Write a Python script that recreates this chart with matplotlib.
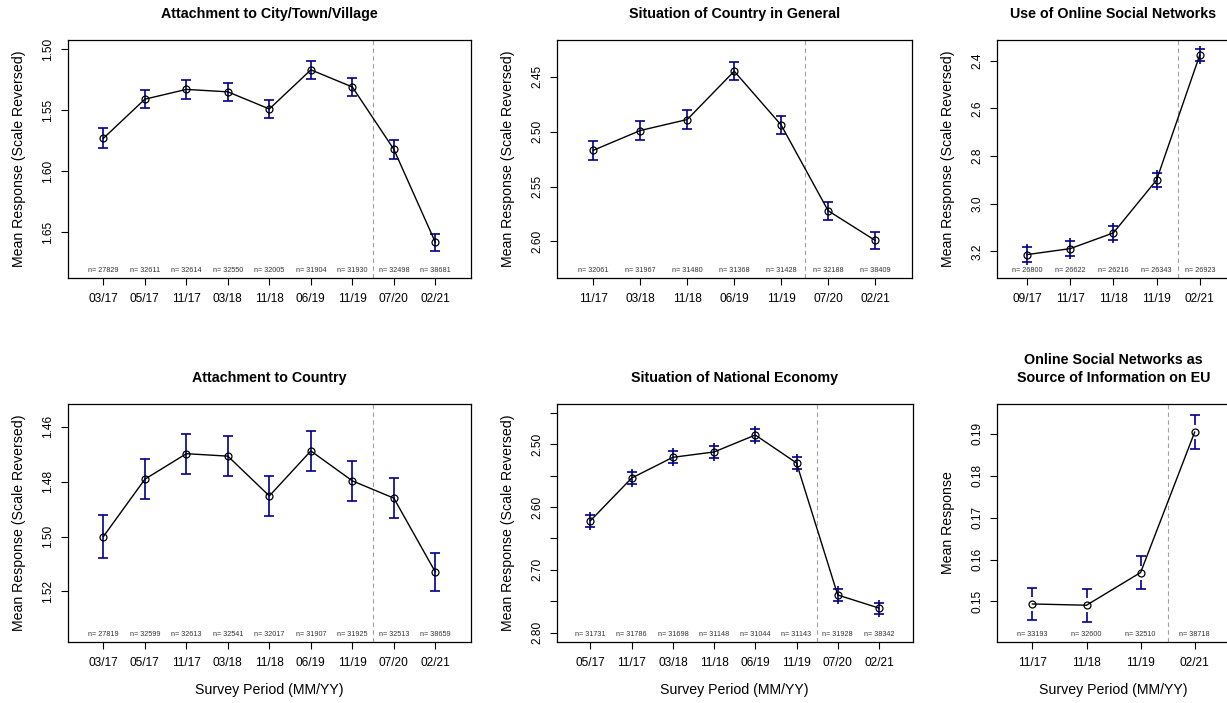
import numpy as np
import matplotlib
matplotlib.use("Agg")
import matplotlib.pyplot as plt
import matplotlib.transforms as mtransforms

plt.rcParams['font.family'] = ['Liberation Sans', 'DejaVu Sans']

# --- data ---
city_labels = ['03/17', '05/17', '11/17', '03/18', '11/18', '06/19', '11/19', '07/20', '02/21']
city_means = [1.573, 1.541, 1.533, 1.535, 1.549, 1.517, 1.531, 1.582, 1.658]
city_errs = [0.0082, 0.0076, 0.0075, 0.0075, 0.0076, 0.0076, 0.0076, 0.0076, 0.0068]
city_n = [27829, 32611, 32614, 32550, 32005, 31904, 31930, 32498, 38681]

general_labels = ['11/17', '03/18', '11/18', '06/19', '11/19', '07/20', '02/21']
general_means = [2.517, 2.499, 2.489, 2.445, 2.494, 2.572, 2.599]
general_errs = [0.0085, 0.0085, 0.0086, 0.0084, 0.0086, 0.0082, 0.0076]
general_n = [32061, 31967, 31480, 31368, 31428, 32188, 38409]

online_labels = ['09/17', '11/17', '11/18', '11/19', '02/21']
online_means = [3.214, 3.189, 3.123, 2.901, 2.376]
online_errs = [0.031, 0.030, 0.028, 0.028, 0.027]
online_n = [26800, 26622, 26216, 26343, 26923]

country_labels = ['03/17', '05/17', '11/17', '03/18', '11/18', '06/19', '11/19', '07/20', '02/21']
country_means = [1.500, 1.4791, 1.4698, 1.4707, 1.4852, 1.4688, 1.4797, 1.4860, 1.5129]
country_errs = [0.0079, 0.0072, 0.0073, 0.0072, 0.0073, 0.0073, 0.0073, 0.0074, 0.0068]
country_n = [27819, 32599, 32613, 32541, 32017, 31907, 31925, 32513, 38659]

economy_labels = ['05/17', '11/17', '03/18', '11/18', '06/19', '11/19', '07/20', '02/21']
economy_means = [2.6216, 2.5537, 2.5207, 2.5122, 2.4852, 2.5297, 2.740, 2.7608]
economy_errs = [0.0096, 0.0096, 0.0096, 0.0096, 0.0096, 0.0096, 0.0095, 0.0088]
economy_n = [31731, 31786, 31698, 31148, 31044, 31143, 31928, 38342]

eu_labels = ['11/17', '11/18', '11/19', '02/21']
eu_means = [0.1494, 0.1491, 0.1569, 0.1904]
eu_errs = [0.0038, 0.0039, 0.0040, 0.0040]
eu_n = [33193, 32600, 32510, 38718]

W, H = 1227, 703
fig = plt.figure(figsize=(W / 100, H / 100), dpi=100)

CI_COLOR = '#00008B'


def make_axes(left, top, width, height=237.7):
    return fig.add_axes([left / W, (H - top - height) / H, width / W, height / H])


def draw_panel(ax, title, labels, means, errs, ns, split, ylim, yticks, ytick_labels,
               ylabel, height_px=237.7, ext_px=0.0, gap_px=0.0, xlabel=False):
    n = len(labels)
    x = np.arange(1, n + 1)
    ax.set_xlim(0.5 - 0.04 * n, n + 0.5 + 0.04 * n)
    ax.set_ylim(*ylim)
    per_px = abs(ylim[1] - ylim[0]) / height_px

    means = np.asarray(means)
    errs = np.asarray(errs)
    lo = means - errs
    hi = means + errs

    # confidence intervals
    ext = ext_px * per_px
    gap = gap_px * per_px
    if gap > 0:
        ax.vlines(x, means + gap, hi, color=CI_COLOR, lw=1.2, zorder=2)
        ax.vlines(x, means - gap, lo, color=CI_COLOR, lw=1.2, zorder=2)
    else:
        ax.vlines(x, lo - ext, hi + ext, color=CI_COLOR, lw=1.2, zorder=2)
    ax.plot(x, hi, ls='none', marker='_', ms=6.5, mew=1.2, color=CI_COLOR, zorder=2)
    ax.plot(x, lo, ls='none', marker='_', ms=6.5, mew=1.2, color=CI_COLOR, zorder=2)

    ax.plot(x, means, color='black', lw=1.0, marker='o', ms=5, mfc='none',
            mec='black', mew=0.9, zorder=3)

    ax.axvline(split, color='#a0a0a0', lw=0.8, ls=(0, (4, 3)), zorder=1)

    trans = mtransforms.blended_transform_factory(ax.transData, ax.transAxes)
    for xi, ni in zip(x, ns):
        ax.text(xi, 7 / height_px, f'n= {ni}', transform=trans, ha='center', va='center',
                fontsize=5.2, color='#333333')

    ax.set_xticks(x)
    ax.set_xticklabels(labels)
    ax.set_yticks(yticks)
    ax.set_yticklabels(ytick_labels)
    ax.tick_params(axis='both', direction='out', length=5, width=0.8, labelsize=8.6,
                   colors='black', pad=4.5)
    ax.tick_params(axis='x', pad=6)
    ax.tick_params(axis='y', labelrotation=90)
    for lab in ax.get_yticklabels():
        lab.set_va('center')

    for sp in ax.spines.values():
        sp.set_linewidth(0.9)
        sp.set_color('black')

    ax.set_title(title, fontsize=10.3, fontweight='bold', pad=16, linespacing=1.35)
    ax.set_ylabel(ylabel, fontsize=10.2)
    width_px = ax.get_position().width * W
    ax.yaxis.set_label_coords(-42 / width_px, 0.5)
    if xlabel:
        ax.set_xlabel('Survey Period (MM/YY)', fontsize=10.2)
        ax.xaxis.set_label_coords(0.5, -41 / height_px)


rev = 'Mean Response (Scale Reversed)'

ax1 = make_axes(67.7, 40, 403.3)
draw_panel(ax1, 'Attachment to City/Town/Village', city_labels, city_means, city_errs, city_n,
           7.5, (1.687, 1.4926), [1.50, 1.55, 1.60, 1.65], ['1.50', '1.55', '1.60', '1.65'], rev)

ax2 = make_axes(556.7, 40, 355)
draw_panel(ax2, 'Situation of Country in General', general_labels, general_means, general_errs,
           general_n, 5.5, (2.633, 2.4166), [2.45, 2.50, 2.55, 2.60],
           ['2.45', '2.50', '2.55', '2.60'], rev)

ax3 = make_axes(996.7, 40, 233.3)
draw_panel(ax3, 'Use of Online Social Networks', online_labels, online_means, online_errs,
           online_n, 4.5, (3.311, 2.313), [2.4, 2.6, 2.8, 3.0, 3.2],
           ['2.4', '2.6', '2.8', '3.0', '3.2'], rev, ext_px=3)

ax4 = make_axes(67.7, 404, 403.3)
draw_panel(ax4, 'Attachment to Country', country_labels, country_means, country_errs, country_n,
           7.5, (1.5383, 1.4517), [1.46, 1.48, 1.50, 1.52], ['1.46', '1.48', '1.50', '1.52'],
           rev, xlabel=True)

ax5 = make_axes(556.7, 404, 356)
draw_panel(ax5, 'Situation of National Economy', economy_labels, economy_means, economy_errs,
           economy_n, 6.5, (2.8144, 2.4358),
           [2.45, 2.50, 2.55, 2.60, 2.65, 2.70, 2.75, 2.80],
           ['', '2.50', '', '2.60', '', '2.70', '', '2.80'], rev, ext_px=3, xlabel=True)

ax6 = make_axes(996.7, 404, 233.7)
draw_panel(ax6, 'Online Social Networks as\nSource of Information on EU', eu_labels, eu_means,
           eu_errs, eu_n, 3.5, (0.1404, 0.1971), [0.15, 0.16, 0.17, 0.18, 0.19],
           ['0.15', '0.16', '0.17', '0.18', '0.19'], 'Mean Response', gap_px=7, xlabel=True)

fig.savefig('out.png', dpi=100)
